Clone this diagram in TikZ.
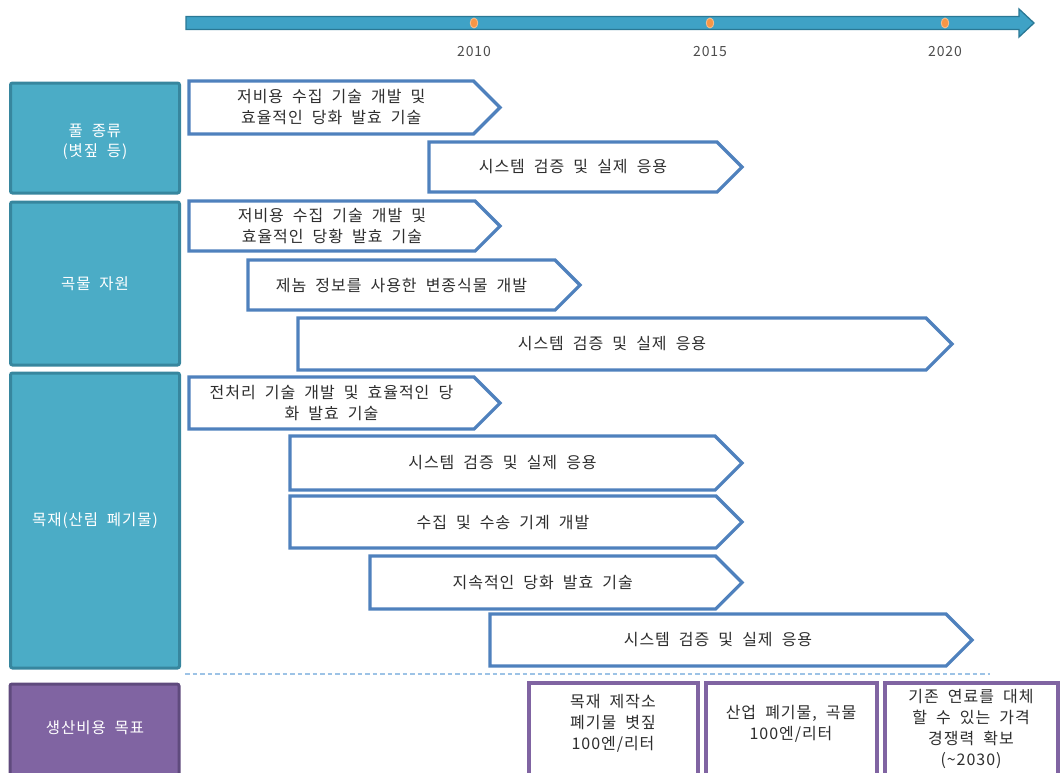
\documentclass[tikz,border=0pt]{standalone}
\usepackage{fontspec}
\setmainfont{Noto Sans CJK KR}[LetterSpace=6,WordSpace=2]
\definecolor{catfill}{HTML}{4BACC6}
\definecolor{catdraw}{HTML}{37869E}
\definecolor{arrdraw}{HTML}{4F81BD}
\definecolor{goalfill}{HTML}{8064A2}
\definecolor{goaldraw}{HTML}{5F4A7D}
\definecolor{txt}{HTML}{2E2E2E}
\definecolor{barfill}{HTML}{3FA2C6}
\definecolor{bardraw}{HTML}{2A7895}
\definecolor{dotfill}{HTML}{F79646}
\definecolor{dashcol}{HTML}{9DC3E6}
\newcommand\tlarr[6]{%
  \draw[arr] (#2,#3) -- ({#4-(#5-#3)/2},#3) -- (#4,{(#3+#5)/2}) -- ({#4-(#5-#3)/2},#5) -- (#2,#5) -- cycle;
  \node[arrtext] (#1) at ({(#2+#4-(#5-#3)/2)/2},{(#3+#5)/2}) {#6};
}
\begin{document}
\begin{tikzpicture}[x=1pt,y=-1pt,
  catbox/.style={draw=catdraw,fill=catfill,line width=3pt,rounded corners=2pt,inner sep=0pt},
  cattext/.style={text=white,font=\fontsize{15.5}{20}\selectfont,align=center},
  arr/.style={draw=arrdraw,fill=white,line width=3.2pt,line join=miter},
  arrtext/.style={text=txt,font=\fontsize{16}{21}\selectfont,align=center,inner sep=0pt},
  goalbox/.style={draw=goaldraw,fill=goalfill,line width=3pt,rounded corners=2pt},
  aimbox/.style={draw=goalfill,fill=white,line width=3.2pt},
  aimtext/.style={text=txt,font=\fontsize{16}{21}\selectfont,align=center,inner sep=0pt},
  year/.style={text=txt!85,font=\fontsize{14}{16}\selectfont,inner sep=0pt},
  tick/.style={fill=dotfill,draw=dotfill!60!white,line width=0.8pt}
]
\useasboundingbox (0,0) rectangle (1060,772);
\clip (0,0) rectangle (1060,772);

% timeline
\draw[fill=barfill,draw=bardraw,line width=1.3pt,line join=miter]
  (186,16.5) -- (1019,16.5) -- (1019,9) -- (1034,23) -- (1019,37) -- (1019,29.5) -- (186,29.5) -- cycle;
\foreach \xx/\yy in {474/2010,710/2015,945/2020}{
  \draw[tick] (\xx,23) ellipse (3.8pt and 5pt);
  \node[year] (y\yy) at (\xx,52) {\yy};
}

% category boxes
\node[catbox,minimum width=169pt,minimum height=110pt] (c1) at (95,138) {};
\node[cattext] (c1t) at (95,142) {풀 종류\\(볏짚 등)};
\node[catbox,minimum width=169pt,minimum height=163pt] (c2) at (95,283.5) {};
\node[cattext] (c2t) at (95,284) {곡물 자원};
\node[catbox,minimum width=169pt,minimum height=295pt] (c3) at (95,520.5) {};
\node[cattext] (c3t) at (95,521) {목재(산림 폐기물)};
\draw[goalbox] (10,684) rectangle (179,800);
\node[cattext] (c4t) at (95,728) {생산비용 목표};

% arrows
\tlarr{a1}{189}{81}{500}{134}{저비용 수집 기술 개발 및\\효율적인 당화 발효 기술}
\tlarr{a2}{429}{142}{742}{192}{시스템 검증 및 실제 응용}
\tlarr{a3}{189}{201}{500}{251}{저비용 수집 기술 개발 및\\효율적인 당황 발효 기술}
\tlarr{a4}{248}{260}{580}{310}{제놈 정보를 사용한 변종식물 개발}
\tlarr{a5}{298}{318}{952}{370}{시스템 검증 및 실제 응용}
\tlarr{a6}{189}{377}{500}{429}{전처리 기술 개발 및 효율적인 당\\화 발효 기술}
\tlarr{a7}{290}{436}{742}{490}{시스템 검증 및 실제 응용}
\tlarr{a8}{290}{496}{742}{548}{수집 및 수송 기계 개발}
\tlarr{a9}{370}{556}{742}{609}{지속적인 당화 발효 기술}
\tlarr{a10}{490}{614}{972}{666}{시스템 검증 및 실제 응용}

% separator
\draw[dashcol,line width=1.2pt,dash pattern=on 4.5pt off 3pt] (185,674) -- (990,674);

% goal boxes
\draw[aimbox] (529,683) rectangle (698,800);
\node[aimtext] (g1) at (613,723.5) {목재 제작소\\폐기물 볏짚\\100엔/리터};
\draw[aimbox] (706,683) rectangle (877,800);
\node[aimtext] (g2) at (791,724) {산업 폐기물, 곡물\\100엔/리터};
\draw[aimbox] (885,683) rectangle (1058,800);
\node[aimtext] (g3) at (971,729) {기존 연료를 대체\\할 수 있는 가격\\경쟁력 확보\\(\textasciitilde2030)};
\end{tikzpicture}
\end{document}
